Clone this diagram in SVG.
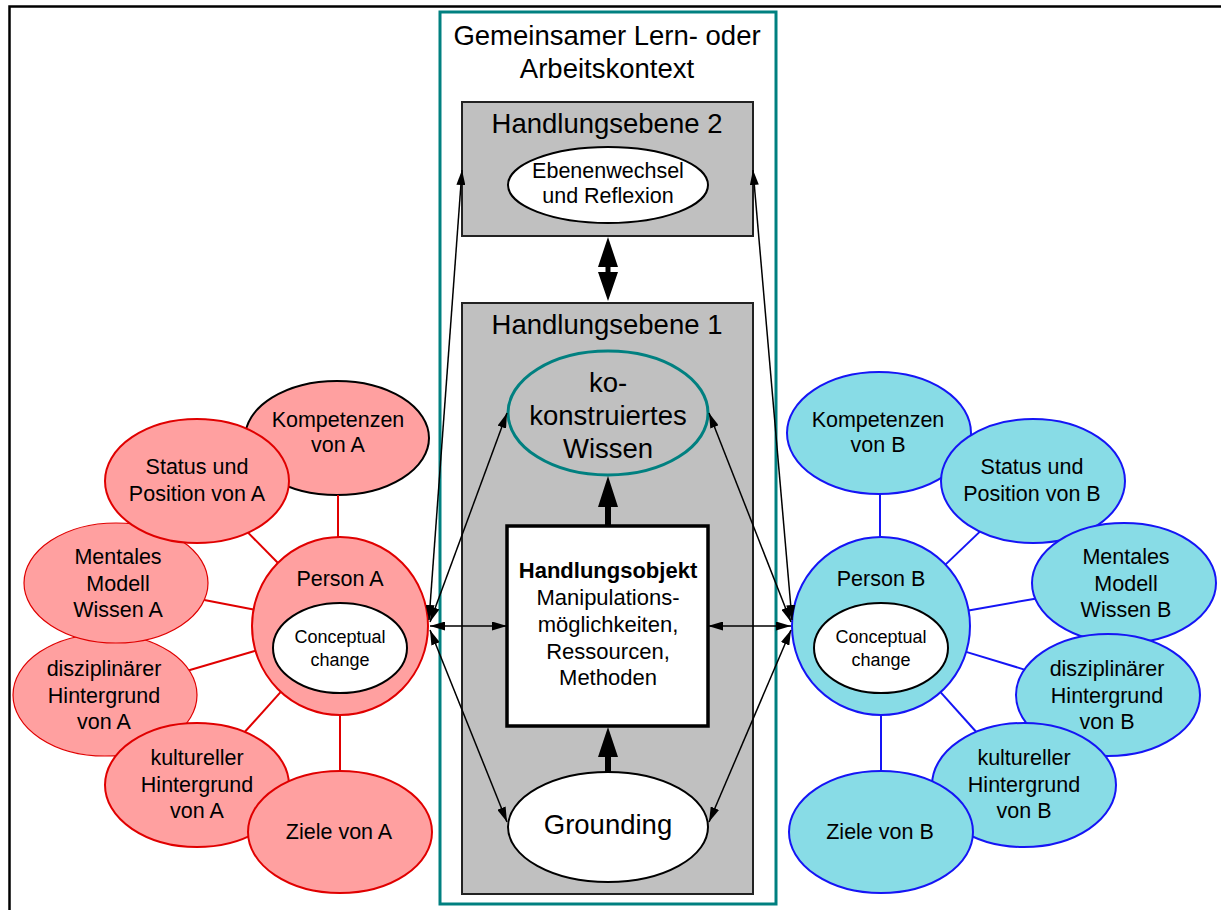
<svg xmlns="http://www.w3.org/2000/svg" width="1221" height="910" viewBox="0 0 1221 910">
<defs>
<marker id="ah" viewBox="0 0 15 9" refX="15" refY="4.5" markerWidth="15" markerHeight="9" markerUnits="userSpaceOnUse" orient="auto-start-reverse"><path d="M0,0 L15,4.5 L0,9 z" fill="#000"/></marker>
</defs>
<style>
text{font-family:"Liberation Sans",Arial,sans-serif;fill:#000;text-anchor:middle}
.t27{font-size:27.5px}
.t21{font-size:21.5px}
.t22{font-size:22px}
.t18{font-size:18px}
.pa{fill:#FFA0A0;stroke:#E00000;stroke-width:2}
.pa1{fill:#FFA0A0;stroke:#E00000;stroke-width:1.2}
.pb{fill:#88DCE6;stroke:#1515F5;stroke-width:2}
.wh{fill:#fff;stroke:#000;stroke-width:2}
.gray{fill:#C0C0C0;stroke:#222;stroke-width:2}
.sa{stroke:#E00000;stroke-width:2}
.sb{stroke:#1515F5;stroke-width:2}
.ar{stroke:#000;stroke-width:1.5;fill:none;marker-start:url(#ah);marker-end:url(#ah)}
</style>
<rect x="0" y="0" width="1221" height="910" fill="#fff"/>
<g id="frame"><rect x="9.5" y="6.5" width="1230" height="920" fill="none" stroke="#000" stroke-width="2.5"/></g>

<g id="kontext">
<rect x="440" y="12" width="336" height="892" fill="#fff" stroke="#008080" stroke-width="3"/>
<text class="t27" x="607" y="45">Gemeinsamer Lern- oder</text>
<text class="t27" x="607" y="78">Arbeitskontext</text>
</g>

<g id="ebene2">
<rect class="gray" x="462" y="102" width="291" height="134"/>
<text class="t27" x="607" y="133">Handlungsebene 2</text>
</g>
<g id="ebenenwechsel">
<ellipse class="wh" cx="608" cy="185" rx="100" ry="38"/>
<text class="t21" x="608" y="178">Ebenenwechsel</text>
<text class="t21" x="608" y="203">und Reflexion</text>
</g>

<g id="ebene1">
<rect class="gray" x="462" y="303" width="291" height="591"/>
<text class="t27" x="607" y="334">Handlungsebene 1</text>
</g>
<g id="kowissen">
<ellipse cx="608" cy="413" rx="100" ry="62" fill="none" stroke="#008080" stroke-width="3"/>
<text class="t27" x="608" y="392">ko-</text>
<text class="t27" x="608" y="425">konstruiertes</text>
<text class="t27" x="608" y="458">Wissen</text>
</g>
<g id="handlungsobjekt">
<rect x="507" y="526" width="201" height="200" fill="#fff" stroke="#000" stroke-width="3.5"/>
<text class="t22" x="608" y="578" font-weight="bold">Handlungsobjekt</text>
<text class="t22" x="608" y="605">Manipulations-</text>
<text class="t22" x="608" y="632">möglichkeiten,</text>
<text class="t22" x="608" y="658.5">Ressourcen,</text>
<text class="t22" x="608" y="685">Methoden</text>
</g>
<g id="grounding">
<ellipse class="wh" cx="608" cy="827" rx="100" ry="55"/>
<text class="t27" x="608" y="834">Grounding</text>
</g>

<g id="kompetenzenA">
<ellipse cx="337" cy="438" rx="92" ry="57" fill="#FFA0A0" stroke="#000" stroke-width="2"/>
<text class="t21" x="338" y="427">Kompetenzen</text>
<text class="t21" x="338" y="452">von A</text>
</g>
<g id="disziplinA">
<ellipse class="pa1" cx="105" cy="695" rx="92" ry="61"/>
<text class="t21" x="104" y="676">disziplinärer</text>
<text class="t21" x="104" y="703">Hintergrund</text>
<text class="t21" x="104" y="729">von A</text>
</g>
<g id="mentalesA">
<ellipse class="pa1" cx="116" cy="583" rx="92" ry="60"/>
<text class="t21" x="118" y="564">Mentales</text>
<text class="t21" x="118" y="591">Modell</text>
<text class="t21" x="118" y="617">Wissen A</text>
</g>
<g id="statusA">
<ellipse class="pa" cx="197" cy="481" rx="92" ry="62"/>
<text class="t21" x="197" y="474">Status und</text>
<text class="t21" x="197" y="501">Position von A</text>
</g>
<g id="kulturA">
<ellipse class="pa" cx="197" cy="785" rx="92" ry="62"/>
<text class="t21" x="197" y="765">kultureller</text>
<text class="t21" x="197" y="792">Hintergrund</text>
<text class="t21" x="197" y="818">von A</text>
</g>
<g id="zieleA">
<ellipse class="pa" cx="340" cy="832" rx="92" ry="61"/>
<text class="t21" x="339" y="839">Ziele von A</text>
</g>
<g id="personA">
<ellipse class="pa" cx="340" cy="626" rx="88" ry="89"/>
<text class="t21" x="340" y="586">Person A</text>
<ellipse class="wh" cx="340" cy="648" rx="67" ry="45"/>
<text class="t18" x="340" y="643">Conceptual</text>
<text class="t18" x="340" y="666">change</text>
</g>

<g id="kompetenzenB">
<ellipse class="pb" cx="879" cy="433" rx="92" ry="61"/>
<text class="t21" x="878" y="427">Kompetenzen</text>
<text class="t21" x="878" y="452">von B</text>
</g>
<g id="statusB">
<ellipse class="pb" cx="1033" cy="481" rx="92" ry="62"/>
<text class="t21" x="1032" y="474">Status und</text>
<text class="t21" x="1032" y="501">Position von B</text>
</g>
<g id="mentalesB">
<ellipse class="pb" cx="1124" cy="583" rx="92" ry="60"/>
<text class="t21" x="1126" y="564">Mentales</text>
<text class="t21" x="1126" y="591">Modell</text>
<text class="t21" x="1126" y="617">Wissen B</text>
</g>
<g id="disziplinB">
<ellipse class="pb" cx="1108" cy="695" rx="92" ry="61"/>
<text class="t21" x="1107" y="676">disziplinärer</text>
<text class="t21" x="1107" y="703">Hintergrund</text>
<text class="t21" x="1107" y="729">von B</text>
</g>
<g id="kulturB">
<ellipse class="pb" cx="1024" cy="785" rx="92" ry="62"/>
<text class="t21" x="1024" y="765">kultureller</text>
<text class="t21" x="1024" y="792">Hintergrund</text>
<text class="t21" x="1024" y="818">von B</text>
</g>
<g id="zieleB">
<ellipse class="pb" cx="881" cy="832" rx="92" ry="61"/>
<text class="t21" x="880" y="839">Ziele von B</text>
</g>
<g id="personB">
<ellipse class="pb" cx="881" cy="626" rx="89" ry="89"/>
<text class="t21" x="881" y="586">Person B</text>
<ellipse class="wh" cx="881" cy="648" rx="67" ry="45"/>
<text class="t18" x="881" y="643">Conceptual</text>
<text class="t18" x="881" y="666">change</text>
</g>

<g id="connectors">
<g id="spokesA" class="sa">
<line x1="338" y1="495" x2="338" y2="537"/>
<line x1="278" y1="563" x2="248" y2="532.6"/>
<line x1="253.5" y1="609.4" x2="204.3" y2="599.9"/>
<line x1="255.5" y1="650.8" x2="189.1" y2="670.3"/>
<line x1="280.8" y1="691.8" x2="244.7" y2="732"/>
<line x1="340" y1="715" x2="340" y2="771"/>
</g>
<g id="spokesB" class="sb">
<line x1="880" y1="494" x2="880" y2="537"/>
<line x1="945.4" y1="564.6" x2="979.9" y2="531.6"/>
<line x1="968.6" y1="610.5" x2="1035.2" y2="598.7"/>
<line x1="966.1" y1="651.9" x2="1024.4" y2="669.6"/>
<line x1="940.5" y1="692.2" x2="976.3" y2="732"/>
<line x1="881" y1="715" x2="881" y2="771"/>
</g>
<g id="thinArrows">
<line class="ar" x1="429" y1="620" x2="462" y2="170"/>
<line class="ar" x1="430" y1="622" x2="507" y2="413"/>
<line class="ar" x1="430" y1="626" x2="507" y2="626"/>
<line class="ar" x1="430" y1="630" x2="507" y2="822"/>
<line class="ar" x1="792" y1="620" x2="753" y2="170"/>
<line class="ar" x1="791" y1="622" x2="709" y2="413"/>
<line class="ar" x1="791" y1="626" x2="708" y2="626"/>
<line class="ar" x1="791" y1="630" x2="709" y2="822"/>
</g>
<g id="thickArrows" fill="#000">
<path d="M608,237 L618,267 L610.5,267 L610.5,272 L618,272 L608,301 L598,272 L605.5,272 L605.5,267 L598,267 Z"/>
<path d="M608,476 L618,507 L611,507 L611,526 L605,526 L605,507 L598,507 Z"/>
<path d="M608,727 L618,757 L611,757 L611,772 L605,772 L605,757 L598,757 Z"/>
</g>
</g>
</svg>
